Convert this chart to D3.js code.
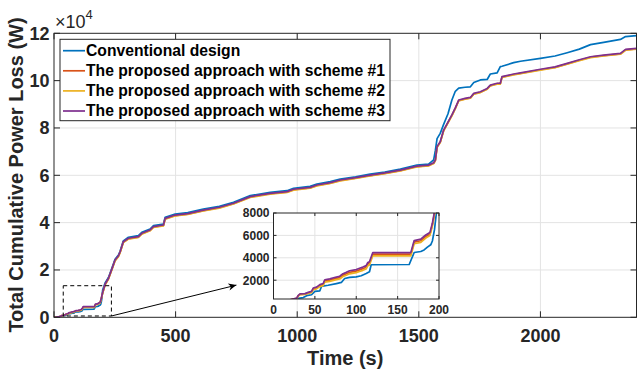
<!DOCTYPE html>
<html><head><meta charset="utf-8">
<script src="https://cdn.jsdelivr.net/npm/d3@7"></script>
<style>
html,body{margin:0;padding:0;background:#fff;}
svg{display:block;font-family:"Liberation Sans",Arial,Helvetica,sans-serif;}
</style></head>
<body>
<svg id="chart" width="637" height="370"></svg>
<script>
// ---------------- DATA ----------------
const seriesNames = ["Conventional design","The proposed approach with scheme #1","The proposed approach with scheme #2","The proposed approach with scheme #3"];
const seriesColors = ["#0072BD","#D95319","#EDB120","#7E2F8E"];

// time stamps (s) of the conventional design curve
const timeConv = [0,10,20,30,36,40,46,50,56,58,66,76,82,86,92,100,106,112,116,118,164,170,178,182,186,190,192,194.5,197,200,
  210,224,240,251,265,272,285,306,347,361,395,409,450,457,498,550,614,680,738,807,889,958,985,1053,1081,1136,1177,1240,1300,1360,1424,1492,1540,1561,1568,1575,1588,1602,1620,1636,1650,1664,1690,1712,1726,1753,1781,1794,1822,1835,1842,1890,1918,2000,2060,2110,2160,2206,2260,2329,2350,2395];
const lossConv = [0,90,200,380,450,620,700,1000,1050,1450,1550,1700,1800,2150,2250,2300,2400,2600,2750,3380,3400,4470,4560,4700,4950,5160,5500,6490,8100,11500,
  14500,16800,21300,24500,26300,28000,32300,33800,34500,35900,37300,38700,39400,42300,43600,44200,45700,46900,48600,51400,52800,53500,54500,55300,56300,57300,58400,59400,60500,61400,62600,64300,64700,66500,70500,75500,77700,81500,86000,91800,95500,96800,97200,97400,99200,100300,100500,102800,103300,105900,106100,107600,108200,109400,110400,111800,113300,115200,116200,117400,118600,119000];

// time stamps (s) shared by the three proposed-approach curves
const timeProp = [0,10,20,28,30,32,38,42,46,48,52,56,60,62,68,76,80,84,88,92,100,104,108,112,114,116,120,166,170,178,184,189,192,194.5,200,
  210,224,240,251,265,272,285,306,347,361,395,409,450,457,498,550,614,680,738,807,889,958,985,1053,1081,1136,1177,1240,1300,1360,1424,1492,1540,1561,1568,1575,1588,1602,1620,1636,1650,1664,1690,1712,1726,1753,1781,1794,1822,1835,1842,1890,1918,2000,2060,2110,2160,2206,2260,2329,2350,2395];
const lossScheme1 = [0,100,240,380,620,730,760,870,950,1230,1300,1510,1600,1930,2010,2160,2230,2450,2570,2700,2810,2920,3030,3160,3440,3510,4330,4330,5400,5520,5900,6110,6950,7950,10300,
  13800,16300,20800,24000,25800,27500,31700,33200,33900,35300,36700,38100,38800,41600,43000,43600,45100,46300,48000,50800,52200,52900,53900,54700,55700,56700,57800,58800,59900,60800,62000,63700,64100,65100,66300,71900,74000,78900,82300,85300,88300,91600,92300,92700,94400,95100,96500,97900,98700,98700,101500,102600,103100,104600,105600,107100,108600,109900,110600,111300,113000,113400];
const lossScheme2 = [0,90,230,360,590,700,720,820,890,1160,1230,1430,1510,1830,1900,2050,2110,2330,2440,2570,2680,2780,2880,3010,3290,3360,4180,4180,5250,5380,5760,5980,6820,7820,10100,
  13650,16150,20650,23850,25650,27350,31550,33050,33750,35150,36550,37950,38650,41450,42850,43450,44950,46150,47850,50650,52050,52750,53750,54550,55550,56550,57650,58650,59750,60650,61850,63550,63950,64950,66150,71750,73850,78750,82150,85150,88150,91450,92150,92550,94250,94950,96350,97750,98550,98550,101350,102450,102950,104450,105450,106950,108450,109750,110450,111150,112850,113250];
const lossScheme3 = [0,100,250,400,650,770,800,915,1000,1300,1380,1600,1700,2040,2120,2280,2350,2580,2700,2840,2950,3060,3170,3300,3580,3650,4470,4470,5540,5660,6040,6250,7080,8100,10500,
  14000,16500,21000,24200,26000,27700,31900,33400,34100,35500,36900,38300,39000,41800,43200,43800,45300,46500,48200,51000,52400,53100,54100,54900,55900,56900,58000,59000,60100,61000,62200,63900,64300,65300,66500,72100,74200,79100,82500,85500,88500,91800,92500,92900,94600,95300,96700,98100,98900,98900,101700,102800,103300,104800,105800,107300,108800,110100,110800,111500,113200,113600];

const mainXTicks = [0,500,1000,1500,2000];
const mainYTicks = [0,20000,40000,60000,80000,100000,120000];
const insetXTicks = [0,50,100,150,200];
const insetYTicks = [2000,4000,6000,8000];
const zoomBox = {t0:38, t1:236, v0:550, v1:13350};
const arrowEnd = {t:750, v:13600};

// ---------------- DRAW ----------------
const svg = d3.select("#chart");
const axisColor = "#262626", gridColor = "#e3e3e3";

const x = d3.scaleLinear().domain([0,2395]).range([54,636.5]);
const y = d3.scaleLinear().domain([0,120000]).range([317.3,33.3]);

const series = [
  {t:timeConv, v:lossConv},
  {t:timeProp, v:lossScheme1},
  {t:timeProp, v:lossScheme2},
  {t:timeProp, v:lossScheme3}
].map((s,i)=>({name:seriesNames[i], color:seriesColors[i], pts:s.t.map((t,k)=>[t,s.v[k]])}));

const defs = svg.append("defs");
defs.append("clipPath").attr("id","mainClip").append("rect")
  .attr("x",54).attr("y",33.3).attr("width",636.5-54).attr("height",317.3-33.3);
defs.append("marker").attr("id","arrowHead").attr("viewBox","0 0 10 10")
  .attr("refX",10).attr("refY",5).attr("markerWidth",10).attr("markerHeight",8)
  .attr("markerUnits","userSpaceOnUse").attr("orient","auto")
  .append("path").attr("d","M0,0.5 L10,5 L0,9.5 L3,5 Z").attr("fill","#000");

function drawBack(g, xs, ys, xt, yt){
  const [x0,x1] = xs.range(), [y0,y1] = ys.range();
  g.append("rect").attr("x",x0).attr("y",y1).attr("width",x1-x0).attr("height",y0-y1).attr("fill","#fff");
  g.selectAll(null).data(xt.filter(d=>d>xs.domain()[0] && d<xs.domain()[1])).enter().append("line")
    .attr("x1",d=>xs(d)).attr("x2",d=>xs(d)).attr("y1",y0).attr("y2",y1).attr("stroke",gridColor).attr("stroke-width",1);
  g.selectAll(null).data(yt.filter(d=>d>ys.domain()[0] && d<ys.domain()[1])).enter().append("line")
    .attr("y1",d=>ys(d)).attr("y2",d=>ys(d)).attr("x1",x0).attr("x2",x1).attr("stroke",gridColor).attr("stroke-width",1);
}
function drawFrame(g, xs, ys, xt, yt, tickLen){
  const [x0,x1] = xs.range(), [y0,y1] = ys.range();
  xt.forEach(d=>{
    g.append("line").attr("x1",xs(d)).attr("x2",xs(d)).attr("y1",y0).attr("y2",y0-tickLen).attr("stroke",axisColor);
    g.append("line").attr("x1",xs(d)).attr("x2",xs(d)).attr("y1",y1).attr("y2",y1+tickLen).attr("stroke",axisColor);
  });
  yt.forEach(d=>{
    g.append("line").attr("y1",ys(d)).attr("y2",ys(d)).attr("x1",x0).attr("x2",x0+tickLen).attr("stroke",axisColor);
    g.append("line").attr("y1",ys(d)).attr("y2",ys(d)).attr("x1",x1).attr("x2",x1-tickLen).attr("stroke",axisColor);
  });
  g.append("rect").attr("x",x0).attr("y",y1).attr("width",x1-x0).attr("height",y0-y1)
    .attr("fill","none").attr("stroke",axisColor).attr("stroke-width",1);
}

// main axes
const gMain = svg.append("g");
drawBack(gMain, x, y, mainXTicks, mainYTicks);

const line = (xs,ys)=>d3.line().x(d=>xs(d[0])).y(d=>ys(d[1]));
const gLines = svg.append("g").attr("clip-path","url(#mainClip)");
series.forEach(s=>{
  gLines.append("path").attr("d",line(x,y)(s.pts)).attr("fill","none")
    .attr("stroke",s.color).attr("stroke-width",1.7).attr("stroke-linejoin","round");
});
drawFrame(svg.append("g"), x, y, mainXTicks, mainYTicks, 6);

// main tick labels
svg.append("g").selectAll("text").data(mainXTicks).enter().append("text")
  .attr("x",d=>x(d)).attr("y",341.5).attr("text-anchor","middle")
  .attr("font-size",18).attr("font-weight","bold").attr("fill",axisColor).text(d=>d);
svg.append("g").selectAll("text").data(mainYTicks).enter().append("text")
  .attr("x",49.5).attr("y",d=>y(d)).attr("dy","0.36em").attr("text-anchor","end")
  .attr("font-size",18).attr("font-weight","bold").attr("fill",axisColor).text(d=>d/10000);
// exponent
const ex = svg.append("text").attr("x",55).attr("y",28.3).attr("font-size",18).attr("fill",axisColor);
ex.append("tspan").text("\u00D710");
ex.append("tspan").attr("font-size",13).attr("dy",-9).text("4");

// axis titles
svg.append("text").attr("x",(54+636.5)/2).attr("y",365).attr("text-anchor","middle")
  .attr("font-size",20).attr("font-weight","bold").attr("fill",axisColor).text("Time (s)");
svg.append("text").attr("transform","translate(23.3,175) rotate(-90)").attr("text-anchor","middle")
  .attr("font-size",20).attr("font-weight","bold").attr("fill",axisColor).text("Total Cumulative Power Loss (W)");

// zoom box and arrow
svg.append("rect").attr("x",x(zoomBox.t0)).attr("y",y(zoomBox.v1))
  .attr("width",x(zoomBox.t1)-x(zoomBox.t0)).attr("height",y(zoomBox.v0)-y(zoomBox.v1))
  .attr("fill","none").attr("stroke","#000").attr("stroke-width",1).attr("stroke-dasharray","4,3");
svg.append("line").attr("x1",x(zoomBox.t1)).attr("y1",y(zoomBox.v0)).attr("x2",x(arrowEnd.t)).attr("y2",y(arrowEnd.v))
  .attr("stroke","#000").attr("stroke-width",1).attr("marker-end","url(#arrowHead)");

// inset
const xi = d3.scaleLinear().domain([0,200]).range([273.5,439]);
const yi = d3.scaleLinear().domain([320,8000]).range([299,213]);
defs.append("clipPath").attr("id","insetClip").append("rect")
  .attr("x",273.5).attr("y",213).attr("width",439-273.5).attr("height",299-213);
drawBack(svg.append("g"), xi, yi, insetXTicks, insetYTicks);
const gInLines = svg.append("g").attr("clip-path","url(#insetClip)");
series.forEach(s=>{
  gInLines.append("path").attr("d",line(xi,yi)(s.pts.filter(p=>p[0]<=215))).attr("fill","none")
    .attr("stroke",s.color).attr("stroke-width",1.7).attr("stroke-linejoin","round");
});
drawFrame(svg.append("g"), xi, yi, insetXTicks, insetYTicks, 3);
svg.append("g").selectAll("text").data(insetXTicks).enter().append("text")
  .attr("x",d=>xi(d)).attr("y",314).attr("text-anchor","middle")
  .attr("font-size",12).attr("font-weight","bold").attr("fill",axisColor).text(d=>d);
svg.append("g").selectAll("text").data(insetYTicks).enter().append("text")
  .attr("x",269.5).attr("y",d=>yi(d)).attr("dy","0.36em").attr("text-anchor","end")
  .attr("font-size",12).attr("font-weight","bold").attr("fill",axisColor).text(d=>d);

// legend
const leg = svg.append("g");
leg.append("rect").attr("x",60).attr("y",39.3).attr("width",330).attr("height",81.4)
  .attr("fill","#fff").attr("stroke",axisColor).attr("stroke-width",1);
series.forEach((s,i)=>{
  const cy = 50.7 + i*20.1;
  leg.append("line").attr("x1",63).attr("x2",85).attr("y1",cy).attr("y2",cy)
    .attr("stroke",s.color).attr("stroke-width",1.7);
  leg.append("text").attr("x",86).attr("y",cy+5.3).attr("font-size",15.7).attr("font-weight","bold")
    .attr("fill","#000").text(s.name);
});
</script>
</body></html>
